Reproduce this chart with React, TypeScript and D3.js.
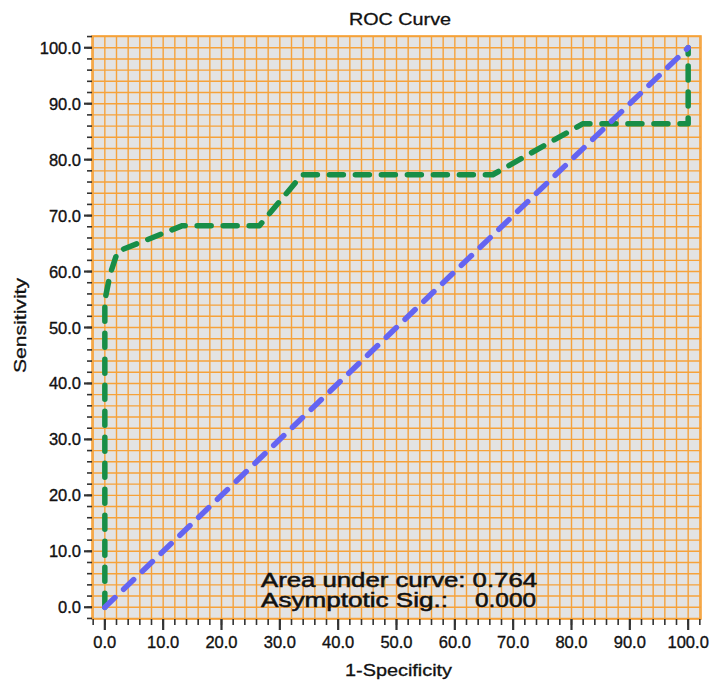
import React from "react";
import * as d3 from "d3";

const fpr = [0, 0, 0.9, 2.2, 13.3, 26.5, 33.8, 66.5, 81.9, 100, 100];
const tpr = [0, 54.8, 59.5, 63.6, 68.2, 68.2, 77.3, 77.3, 86.4, 86.4, 100];
const refX = [0, 100];
const refY = [0, 100];
const majorTicks = [0, 10, 20, 30, 40, 50, 60, 70, 80, 90, 100];
const minorTicks = d3.range(-2, 103, 2);
const gridVals = d3.range(-2, 103, 2);
const titleText = "ROC Curve";
const xTitle = "1-Specificity";
const yTitle = "Sensitivity";
const aucLine = "Area under curve: 0.764";
const sigLabel = "Asymptotic Sig.:";
const sigValue = "0.000";

const W = 714;
const H = 680;
const L = 92, R = 701, T = 36, B = 619;
const FONT = "'Liberation Sans', Arial, Helvetica, sans-serif";

export default function App() {
  const x = d3.scaleLinear().domain([-2.2, 102.2]).range([L, R]);
  const y = d3.scaleLinear().domain([-2.1, 102.1]).range([B, T]);
  const line = d3
    .line<number>()
    .x((_, i) => x(fpr[i]))
    .y((_, i) => y(tpr[i]));
  const refLine = d3
    .line<number>()
    .x((_, i) => x(refX[i]))
    .y((_, i) => y(refY[i]));
  const gridColor = "#F6A23A";
  const txt = "#111";
  return (
    <svg
      width={W}
      height={H}
      style={{ position: "absolute", left: 0, top: 0, background: "#fff" }}
      fontFamily={FONT}
    >
      <rect x={L} y={T} width={R - L} height={B - T} fill="#E3E3E3" />
      {gridVals.map((v) => (
        <line key={"gx" + v} x1={x(v)} x2={x(v)} y1={T} y2={B} stroke={gridColor} strokeWidth={1.4} />
      ))}
      {gridVals.map((v) => (
        <line key={"gy" + v} x1={L} x2={R} y1={y(v)} y2={y(v)} stroke={gridColor} strokeWidth={1.4} />
      ))}
      <rect x={L} y={T} width={R - L} height={B - T} fill="none" stroke={gridColor} strokeWidth={1.6} />

      {minorTicks.map((v) => (
        <line key={"mx" + v} x1={x(v)} x2={x(v)} y1={B} y2={B + 6} stroke="#333" strokeWidth={1.6} />
      ))}
      {minorTicks.map((v) => (
        <line key={"my" + v} x1={L - 5} x2={L} y1={y(v)} y2={y(v)} stroke="#333" strokeWidth={1.6} />
      ))}
      {majorTicks.map((v) => (
        <line key={"Mx" + v} x1={x(v)} x2={x(v)} y1={B} y2={B + 11} stroke="#333" strokeWidth={2.2} />
      ))}
      {majorTicks.map((v) => (
        <line key={"My" + v} x1={L - 8} x2={L} y1={y(v)} y2={y(v)} stroke="#333" strokeWidth={2.2} />
      ))}
      {majorTicks.map((v) => (
        <text key={"lx" + v} x={x(v)} y={648} textAnchor="middle" fontSize={16.5} fill={txt} stroke={txt} strokeWidth={0.35}>
          {v.toFixed(1)}
        </text>
      ))}
      {majorTicks.map((v) => (
        <text key={"ly" + v} x={81} y={y(v) + 6} textAnchor="end" fontSize={16.5} fill={txt} stroke={txt} strokeWidth={0.35}>
          {v.toFixed(1)}
        </text>
      ))}

      <path
        d={line(fpr) || ""}
        fill="none"
        stroke="#178E47"
        strokeWidth={5.5}
        strokeDasharray="14 12"
        strokeLinecap="round"
        strokeLinejoin="round"
      />
      <path
        d={refLine(refX) || ""}
        fill="none"
        stroke="#6464F2"
        strokeWidth={5.5}
        strokeDasharray="14 12"
        strokeLinecap="round"
      />

      <text x={261} y={587} fontSize={19.5} fill={txt} stroke={txt} strokeWidth={0.5} textLength={276} lengthAdjust="spacingAndGlyphs">
        {aucLine}
      </text>
      <text x={261} y={607} fontSize={19.5} fill={txt} stroke={txt} strokeWidth={0.5} textLength={187} lengthAdjust="spacingAndGlyphs">
        {sigLabel}
      </text>
      <text x={475} y={607} fontSize={19.5} fill={txt} stroke={txt} strokeWidth={0.5} textLength={61} lengthAdjust="spacingAndGlyphs">
        {sigValue}
      </text>

      <text x={349} y={25} fontSize={16} fill={txt} stroke={txt} strokeWidth={0.3} textLength={102} lengthAdjust="spacingAndGlyphs">
        {titleText}
      </text>
      <text x={345} y={676} fontSize={16} fill={txt} stroke={txt} strokeWidth={0.3} textLength={107} lengthAdjust="spacingAndGlyphs">
        {xTitle}
      </text>
      <text
        transform={`translate(26, 373) rotate(-90)`}
        x={0}
        y={0}
        fontSize={17}
        fill={txt}
        stroke={txt}
        strokeWidth={0.3}
        textLength={95}
        lengthAdjust="spacingAndGlyphs"
      >
        {yTitle}
      </text>
    </svg>
  );
}
